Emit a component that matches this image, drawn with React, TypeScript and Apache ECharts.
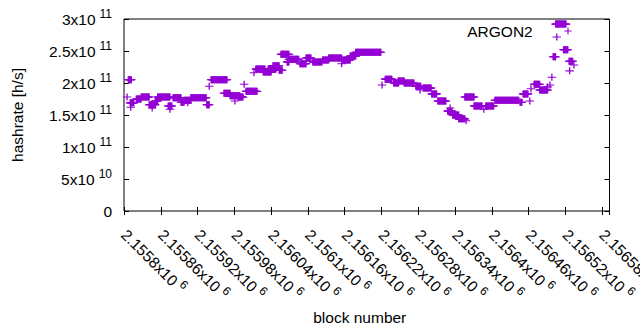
import React, { useEffect, useRef } from 'react';
import * as echarts from 'echarts';

// Runs of consecutive blocks sharing the same hashrate estimate
const runStart = [
  2155807, 2155805, 2155810, 2155811, 2155820, 2155828, 2155841, 2155846, 2155851, 2155855,
  2155872, 2155875, 2155880, 2155893, 2155898, 2155904, 2155909, 2155935, 2155939, 2155942,
  2155963, 2155973, 2155981, 2155986, 2155996, 2155999, 2156012, 2156015, 2156027, 2156035,
  2156043, 2156053, 2156056, 2156066, 2156069, 2156087, 2156097, 2156108, 2156124, 2156134,
  2156157, 2156155, 2156169, 2156178, 2156221, 2156226, 2156240, 2156247, 2156257, 2156276,
  2156283, 2156288, 2156302, 2156312, 2156328, 2156332, 2156336, 2156346, 2156358, 2156356,
  2156371, 2156387, 2156390, 2156405, 2156446, 2156462, 2156451, 2156464, 2156469, 2156478,
  2156491, 2156495, 2156498, 2156500, 2156504, 2156506, 2156517, 2156526, 2156534, 2156527,
];
const runEnd = [
  2155812, 2155805, 2155816, 2155811, 2155828, 2155841, 2155851, 2155846, 2155855, 2155875,
  2155878, 2155875, 2155893, 2155898, 2155909, 2155904, 2155934, 2155939, 2155939, 2155968,
  2155973, 2155989, 2155981, 2155994, 2155996, 2156017, 2156012, 2156030, 2156040, 2156048,
  2156053, 2156058, 2156069, 2156069, 2156085, 2156097, 2156105, 2156123, 2156134, 2156155,
  2156169, 2156155, 2156178, 2156219, 2156221, 2156237, 2156248, 2156257, 2156273, 2156284,
  2156283, 2156301, 2156310, 2156325, 2156335, 2156332, 2156346, 2156356, 2156358, 2156371,
  2156384, 2156387, 2156403, 2156444, 2156449, 2156462, 2156459, 2156464, 2156478, 2156491,
  2156491, 2156495, 2156498, 2156504, 2156521, 2156506, 2156524, 2156532, 2156534, 2156527,
];
const runHashrate = [
  2.05e11, 1.78e11, 1.69e11, 1.62e11, 1.75e11, 1.78e11, 1.66e11, 1.61e11, 1.72e11, 1.78e11,
  1.64e11, 1.59e11, 1.77e11, 1.70e11, 1.73e11, 1.69e11, 1.77e11, 1.66e11, 1.95e11, 2.05e11,
  1.84e11, 1.80e11, 1.72e11, 1.78e11, 1.98e11, 1.87e11, 2.16e11, 2.22e11, 2.17e11, 2.22e11,
  2.27e11, 2.20e11, 2.45e11, 2.33e11, 2.37e11, 2.30e11, 2.39e11, 2.33e11, 2.36e11, 2.39e11,
  2.36e11, 2.30e11, 2.42e11, 2.48e11, 1.97e11, 2.06e11, 2.00e11, 2.03e11, 2.00e11, 1.95e11,
  1.89e11, 1.92e11, 1.83e11, 1.72e11, 1.56e11, 1.61e11, 1.50e11, 1.44e11, 1.41e11, 1.78e11,
  1.64e11, 1.59e11, 1.64e11, 1.73e11, 1.70e11, 1.72e11, 1.83e11, 1.91e11, 1.98e11, 1.89e11,
  1.94e11, 1.97e11, 2.09e11, 2.41e11, 2.92e11, 2.72e11, 2.52e11, 2.34e11, 2.28e11, 2.19e11,
];

const xMin = 2155800;
const xMax = 2156592;
const xInterval = 60;
const yMin = 0;
const yMax = 3e11;
const yInterval = 5e10;
const seriesName = 'ARGON2';

const FONT = '"Liberation Sans", Arial, sans-serif';
const COLOR = '#9400d3';
const PLUS = 'path://M3.8,0H5.2V3.8H9V5.2H5.2V9H3.8V5.2H0V3.8H3.8Z';

function sci(v: number): string {
  if (v === 0) return '{b|0}';
  const e = Math.floor(Math.log10(Math.abs(v)) + 1e-9);
  const m = parseFloat((v / Math.pow(10, e)).toPrecision(8));
  return `{b|${m}x10}{s|${e}}`;
}

const rich = {
  b: { fontSize: 15.5, fontFamily: FONT, color: '#000' },
  s: { fontSize: 12, fontFamily: FONT, color: '#000', padding: [0, 0, 10, 4] },
};

function buildPoints(): number[][] {
  const pts: number[][] = [];
  for (let i = 0; i < runStart.length; i++) {
    for (let b = runStart[i]; b <= runEnd[i]; b++) {
      pts.push([b, runHashrate[i]]);
    }
  }
  return pts;
}

export default function App() {
  const ref = useRef<HTMLDivElement>(null);
  useEffect(() => {
    const chart = echarts.init(ref.current!, null, { renderer: 'svg' });
    const xBase = {
      type: 'value',
      min: xMin,
      max: xMax,
      interval: xInterval,
      splitLine: { show: false },
      axisLine: { show: false },
      axisTick: { show: true, inside: true, length: 4, lineStyle: { color: '#000' } },
    };
    const yBase = {
      type: 'value',
      min: yMin,
      max: yMax,
      interval: yInterval,
      splitLine: { show: false },
      axisLine: { show: false },
      axisTick: { show: true, inside: true, length: 5, lineStyle: { color: '#000' } },
    };
    chart.setOption({
      animation: false,
      backgroundColor: '#fff',
      textStyle: { fontFamily: FONT },
      grid: {
        left: 124,
        right: 30.5,
        top: 19,
        bottom: 119,
        containLabel: false,
        outerBoundsMode: 'none',
        show: true,
        borderColor: '#000',
        borderWidth: 1,
        backgroundColor: 'transparent',
      },
      legend: {
        data: [seriesName],
        right: 68.5,
        top: 23,
        align: 'right',
        padding: 0,
        icon: PLUS,
        itemWidth: 8.5,
        itemHeight: 7,
        textStyle: { fontSize: 15.5, fontFamily: FONT, color: '#000', padding: [0, 26, 0, 0] },
      },
      xAxis: [
        {
          ...xBase,
          position: 'bottom',
          name: 'block number',
          nameLocation: 'middle',
          nameGap: 96,
          nameTextStyle: { fontSize: 15.5, fontFamily: FONT, color: '#000', padding: [0, 14, 0, 0] },
          axisLabel: {
            show: true,
            rotate: -45,
            margin: 21,
            showMaxLabel: false,
            formatter: (v: number) => sci(v),
            rich,
          },
        },
        {
          ...xBase,
          position: 'top',
          axisLabel: { show: false },
        },
      ],
      yAxis: [
        {
          ...yBase,
          position: 'left',
          name: 'hashrate [h/s]',
          nameLocation: 'middle',
          nameRotate: 90,
          nameGap: 99,
          nameTextStyle: { fontSize: 15.5, fontFamily: FONT, color: '#000' },
          axisLabel: {
            show: true,
            margin: 12,
            formatter: (v: number) => sci(v),
            rich,
          },
        },
        {
          ...yBase,
          position: 'right',
          axisLabel: { show: false },
        },
      ],
      series: [
        {
          name: seriesName,
          type: 'scatter',
          xAxisIndex: 0,
          yAxisIndex: 0,
          symbol: PLUS,
          symbolSize: [8.5, 7],
          itemStyle: { color: COLOR, opacity: 1 },
          emphasis: { disabled: true },
          data: buildPoints(),
          large: false,
        },
      ],
    });
    return () => chart.dispose();
  }, []);
  return (
    <div
      ref={ref}
      style={{ position: 'absolute', left: 0, top: 0, width: 640, height: 330 }}
    />
  );
}
